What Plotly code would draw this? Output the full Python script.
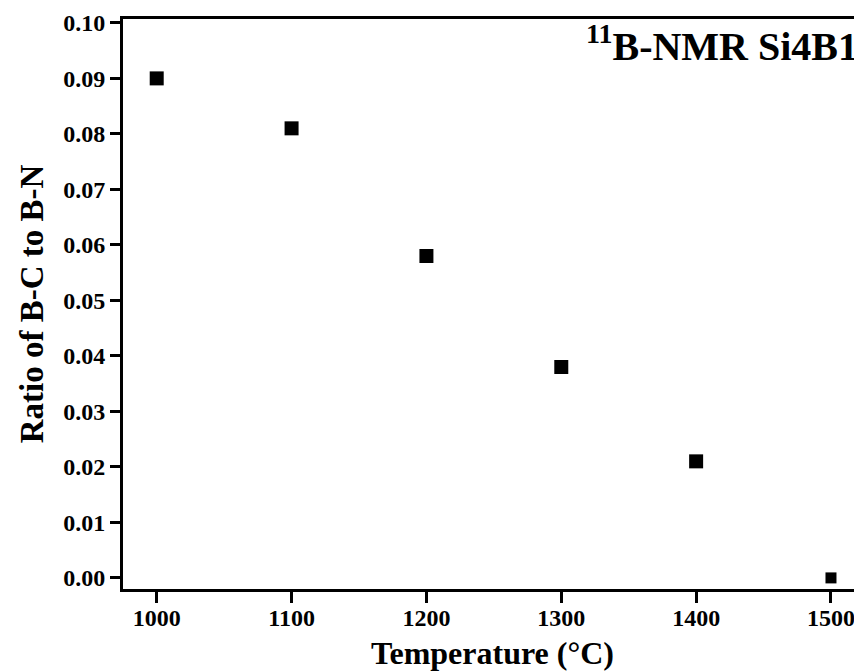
import plotly.graph_objects as go

temperature = [1000, 1100, 1200, 1300, 1400, 1500]
ratio_bc_bn = [0.090, 0.081, 0.058, 0.038, 0.021, 0.000]
y_ticks = [0.00, 0.01, 0.02, 0.03, 0.04, 0.05, 0.06, 0.07, 0.08, 0.09, 0.10]
x_ticks = [1000, 1100, 1200, 1300, 1400, 1500]

FONT = "Liberation Serif"

fig = go.Figure()
fig.add_trace(go.Scatter(
    x=temperature, y=ratio_bc_bn, mode="markers",
    marker=dict(symbol="square", color="black", size=[14, 14, 14, 14, 14, 11],
                opacity=1, line=dict(width=0)),
    cliponaxis=False, showlegend=False,
))

fig.update_layout(
    width=854, height=663,
    margin=dict(l=115, r=0, t=11, b=82),
    paper_bgcolor="white", plot_bgcolor="white",
    font=dict(family=FONT, color="black"),
    xaxis=dict(
        range=[975, 1523], tickvals=x_ticks, ticktext=[str(v) for v in x_ticks],
        showgrid=False, zeroline=False,
        showline=True, linecolor="black", linewidth=3, mirror=True,
        ticks="outside", ticklen=11, tickwidth=3, tickcolor="black",
        ticklabelstandoff=-6,
        tickfont=dict(family=FONT, size=24, color="black", weight="bold"),
        title=dict(text="<b>Temperature (°C)</b>", font=dict(family=FONT, size=32, color="black"), standoff=12),
    ),
    yaxis=dict(
        range=[-0.002, 0.1007], tickvals=y_ticks, ticktext=[f"{v:.2f}" for v in y_ticks],
        showgrid=False, zeroline=False,
        showline=True, linecolor="black", linewidth=3,
        ticks="outside", ticklen=10, tickwidth=3, tickcolor="black",
        tickfont=dict(family=FONT, size=24, color="black", weight="bold"),
        title=dict(text="<b>Ratio of B-C to B-N</b>", font=dict(family=FONT, size=33, color="black"), standoff=10),
    ),
)

fig.add_annotation(
    x=1, y=1, xref="paper", yref="paper", xanchor="right", yanchor="top",
    xshift=-2, yshift=3,
    text="<b><sup>11</sup>B-NMR Si4B1</b>", showarrow=False,
    font=dict(family=FONT, size=40, color="black"),
)

fig.write_html("out.html")
